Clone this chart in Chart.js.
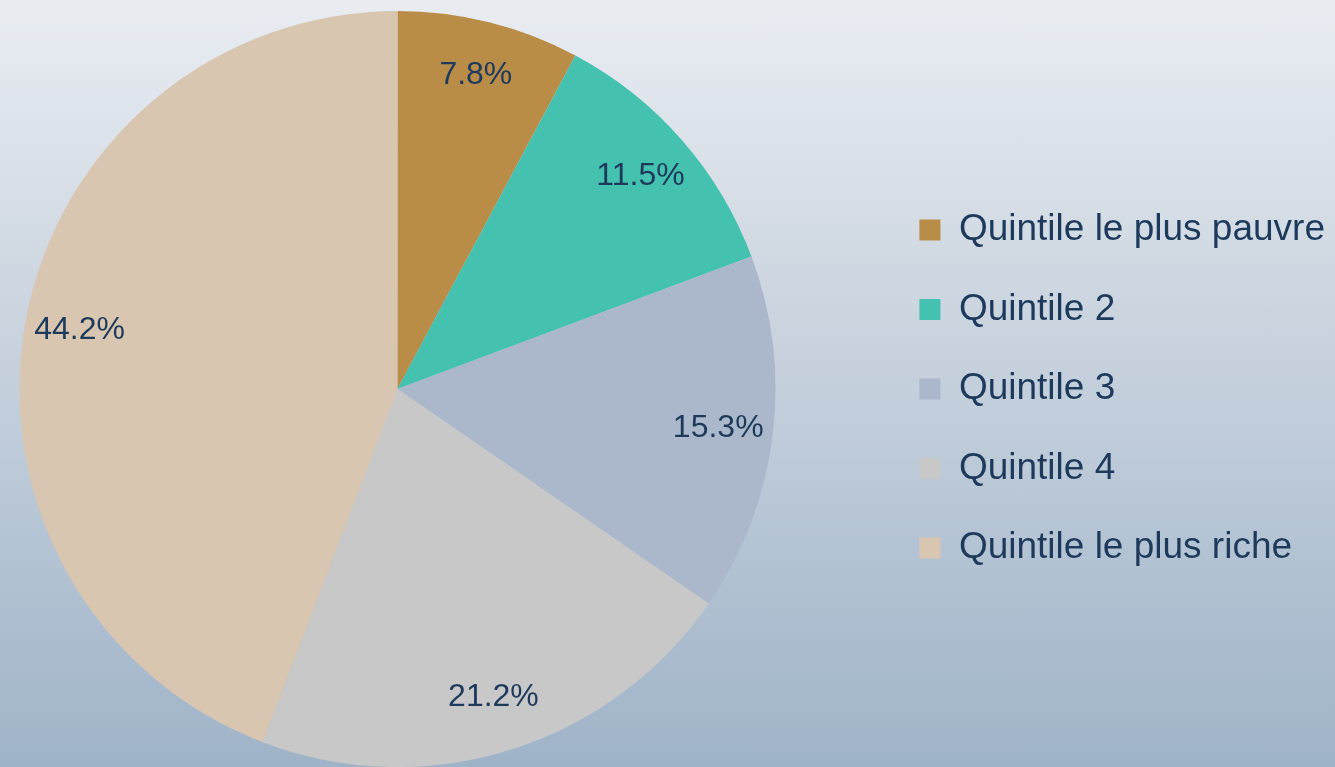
<!DOCTYPE html>
<html>
<head>
<meta charset="utf-8">
<script src="https://cdn.jsdelivr.net/npm/chart.js@4"></script>
<style>
  html, body { margin: 0; padding: 0; }
  body {
    width: 1335px; height: 767px; overflow: hidden; position: relative;
    background: linear-gradient(to bottom, #e9edf2 0%, #d3dbe4 30%, #b9c7d6 65%, #9fb3c8 100%);
  }
  /* canvas starts left of the page so the pie sits where it does in the original */
  #wrap { position: absolute; left: -82px; top: 0; width: 1417px; height: 767px; }
</style>
</head>
<body>
<div id="wrap"><canvas id="myChart"></canvas></div>
<script>
const categories = ['Quintile le plus pauvre', 'Quintile 2', 'Quintile 3', 'Quintile 4', 'Quintile le plus riche'];
const shares = [7.8, 11.5, 15.3, 21.2, 44.2];
const sliceColors = ['#b98c47', '#45c1af', '#abb8cb', '#c8c8c8', '#d9c6b0'];

const textColor = '#1d3a5c';

// percent labels inside the slices
const sliceLabels = {
    id: 'sliceLabels',
    afterDatasetsDraw(chart) {
        const ctx = chart.ctx;
        const meta = chart.getDatasetMeta(0);
        ctx.save();
        ctx.font = '32px "Liberation Sans", Arial, sans-serif';
        ctx.fillStyle = textColor;
        ctx.textAlign = 'center';
        ctx.textBaseline = 'middle';
        meta.data.forEach((arc, i) => {
            const a = (arc.startAngle + arc.endAngle) / 2;
            const r = arc.outerRadius * 0.855;
            ctx.fillText(shares[i].toFixed(1) + '%', arc.x + Math.cos(a) * r, arc.y + Math.sin(a) * r);
        });
        ctx.restore();
    }
};

const data = {
    labels: categories,
    datasets: [{
        data: shares,
        backgroundColor: sliceColors,
        borderWidth: 0
    }]
};

const config = {
    type: 'pie',
    data: data,
    options: {
        responsive: true,
        maintainAspectRatio: false,
        animation: false,
        layout: {
            padding: { left: 0, top: 11, right: 0, bottom: 0 }
        },
        plugins: {
            tooltip: { enabled: false },
            legend: {
                position: 'right',
                align: 'center',
                labels: {
                    color: textColor,
                    font: { family: '"Liberation Sans", Arial, sans-serif', size: 37 },
                    boxWidth: 21,
                    boxHeight: 21,
                    padding: 42.5
                }
            }
        }
    },
    plugins: [sliceLabels]
};

window.onload = function () {
    const ctx = document.getElementById('myChart').getContext('2d');
    new Chart(ctx, config);
};
</script>
</body>
</html>
